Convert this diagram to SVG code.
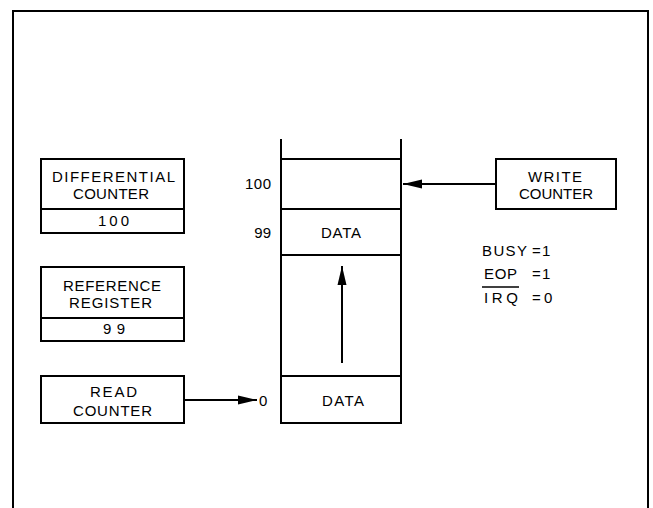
<svg xmlns="http://www.w3.org/2000/svg" width="653" height="508" viewBox="0 0 653 508">
<defs>
<style>
.ln{stroke:#000;stroke-width:2;fill:none}
.bx{stroke:#000;stroke-width:2;fill:#fff}
text{font-family:"Liberation Sans",Arial,sans-serif;font-size:15px;fill:#000}
.c{text-anchor:middle}
.r{text-anchor:end}
</style>
<marker id="ah" markerUnits="userSpaceOnUse" markerWidth="20" markerHeight="12" refX="19" refY="5" orient="auto">
<path d="M0,0.5 L19,5 L0,9.5 Z" fill="#000"/>
</marker>
</defs>
<rect width="653" height="508" fill="#fff"/>
<path class="ln" d="M13,512 L13,11 L648,11 L648,512"/>

<g id="differential-counter">
<rect class="bx" x="41" y="159" width="143" height="74"/>
<line class="ln" x1="41" y1="209" x2="184" y2="209"/>
<text class="c" x="113.5" y="182" textLength="123" lengthAdjust="spacing">DIFFERENTIAL</text>
<text class="c" x="111" y="199" textLength="76" lengthAdjust="spacing">COUNTER</text>
<text class="c" x="113.5" y="226" textLength="31" lengthAdjust="spacing">100</text>
</g>

<g id="reference-register">
<rect class="bx" x="41" y="267" width="143" height="74"/>
<line class="ln" x1="41" y1="318" x2="184" y2="318"/>
<text class="c" x="112" y="291" textLength="98" lengthAdjust="spacing">REFERENCE</text>
<text class="c" x="110.5" y="308" textLength="83" lengthAdjust="spacing">REGISTER</text>
<text class="c" x="114" y="334" textLength="22" lengthAdjust="spacing">99</text>
</g>

<g id="read-counter">
<rect class="bx" x="41" y="376" width="143" height="47"/>
<text class="c" x="113.5" y="397" textLength="47" lengthAdjust="spacing">READ</text>
<text class="c" x="112.5" y="416" textLength="79" lengthAdjust="spacing">COUNTER</text>
</g>

<g id="write-counter">
<rect class="bx" x="496" y="159" width="120" height="50"/>
<text class="c" x="555" y="182" textLength="54" lengthAdjust="spacing">WRITE</text>
<text class="c" x="556" y="199" textLength="74" lengthAdjust="spacing">COUNTER</text>
</g>

<g id="buffer-stack">
<line class="ln" x1="281" y1="139" x2="281" y2="424"/>
<line class="ln" x1="401" y1="139" x2="401" y2="424"/>
<line class="ln" x1="281" y1="159" x2="401" y2="159"/>
<line class="ln" x1="281" y1="209" x2="401" y2="209"/>
<line class="ln" x1="281" y1="255" x2="401" y2="255"/>
<line class="ln" x1="281" y1="376" x2="401" y2="376"/>
<line class="ln" x1="280" y1="423" x2="402" y2="423"/>
<text class="c" x="341" y="238" textLength="40" lengthAdjust="spacing">DATA</text>
<text class="c" x="343" y="406" textLength="42" lengthAdjust="spacing">DATA</text>
<text class="r" x="271" y="189" textLength="26" lengthAdjust="spacing">100</text>
<text class="r" x="271" y="238">99</text>
<text x="259" y="406">0</text>
</g>

<g id="status">
<text x="482" y="256" textLength="45" lengthAdjust="spacing">BUSY</text>
<text x="532" y="256">=</text>
<text x="542" y="256">1</text>
<text x="484" y="279" textLength="33" lengthAdjust="spacing">EOP</text>
<text x="532" y="279">=</text>
<text x="542" y="279">1</text>
<line class="ln" x1="482" y1="287" x2="519" y2="287" style="stroke-width:1.5"/>
<text x="484" y="303" textLength="34" lengthAdjust="spacing">IRQ</text>
<text x="532" y="303">=</text>
<text x="544" y="303">0</text>
</g>

<g id="connectors">
<line class="ln" x1="185" y1="400" x2="257" y2="400" marker-end="url(#ah)"/>
<line class="ln" x1="496" y1="184" x2="403" y2="184" marker-end="url(#ah)"/>
<line class="ln" x1="342" y1="363" x2="342" y2="266" marker-end="url(#ah)"/>
</g>
</svg>
